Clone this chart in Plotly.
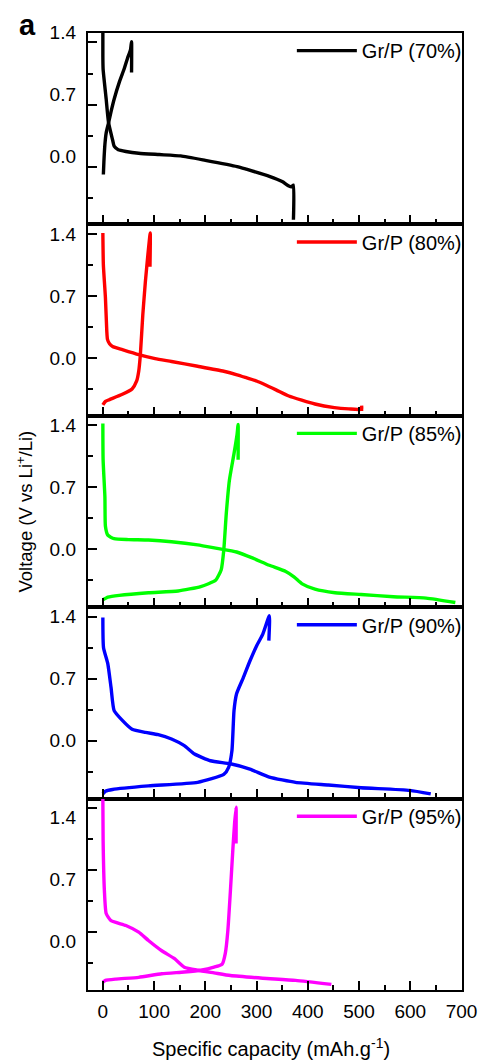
import plotly.graph_objects as go
from plotly.subplots import make_subplots

# Specific capacity (mAh/g) and voltage (V vs Li+/Li) for each Gr/P electrode
labels = ["Gr/P (70%)", "Gr/P (80%)", "Gr/P (85%)", "Gr/P (90%)", "Gr/P (95%)"]

# Gr/P (70%)
dis70_x = [0, 0, 0.5, 6.5, 11, 19, 22, 30, 45, 70, 110, 152, 200, 262, 280, 325, 350, 363, 368, 372, 372]
dis70_v = [1.51, 1.25, 1.10, 0.76, 0.50, 0.30, 0.23, 0.19, 0.17, 0.15, 0.135, 0.12, 0.07, 0.0, -0.03, -0.11, -0.17, -0.22, -0.23, -0.21, -0.60]
chg70_x = [1, 2, 4, 6.5, 11, 16, 22, 32, 41.5, 48, 54, 56, 56]
chg70_v = [-0.09, 0.05, 0.25, 0.38, 0.49, 0.62, 0.76, 0.95, 1.10, 1.22, 1.32, 1.41, 1.06]

# Gr/P (80%)
dis80_x = [0, 1, 5, 7.7, 9, 13, 19, 38, 70, 102, 134, 185, 236, 262, 281, 300, 338, 363, 414, 452, 480, 505, 505, 505]
dis80_v = [1.41, 1.05, 0.68, 0.30, 0.21, 0.16, 0.13, 0.094, 0.037, -0.008, -0.04, -0.094, -0.15, -0.19, -0.225, -0.26, -0.36, -0.43, -0.52, -0.56, -0.575, -0.58, -0.54, -0.60]
chg80_x = [0, 5, 13, 38, 57, 66, 70, 73, 78, 83, 88, 92.5, 92]
chg80_v = [-0.53, -0.49, -0.47, -0.41, -0.35, -0.26, -0.15, 0.02, 0.49, 0.86, 1.17, 1.41, 1.03]

# Gr/P (85%)
dis85_x = [0, 0.5, 4, 5, 9.6, 22, 50, 89, 134, 185, 223, 261, 293, 325, 357, 373, 389, 414, 453, 504, 567, 631, 688]
dis85_v = [1.42, 1.01, 0.59, 0.26, 0.16, 0.12, 0.11, 0.105, 0.086, 0.05, 0.01, -0.03, -0.10, -0.18, -0.25, -0.31, -0.39, -0.45, -0.49, -0.51, -0.535, -0.55, -0.60]
chg85_x = [0, 10, 32, 89, 147, 191, 220, 231, 236, 241, 247, 256, 262, 264, 264]
chg85_v = [-0.57, -0.54, -0.52, -0.49, -0.47, -0.42, -0.35, -0.23, -0.01, 0.41, 0.78, 1.08, 1.30, 1.41, 1.01]

# Gr/P (90%)
dis90_x = [0, 1.3, 9.6, 16, 22, 38, 57, 83, 108, 134, 159, 179, 210, 249, 287, 325, 376, 440, 504, 599, 640]
dis90_v = [1.39, 1.05, 0.87, 0.60, 0.34, 0.23, 0.13, 0.094, 0.068, 0.019, -0.056, -0.15, -0.226, -0.26, -0.32, -0.41, -0.47, -0.50, -0.53, -0.56, -0.60]
chg90_x = [0, 5, 19, 89, 185, 236, 245.5, 252, 256, 261, 274, 287, 300, 312, 325, 324]
chg90_v = [-0.60, -0.57, -0.55, -0.51, -0.47, -0.38, -0.30, -0.11, 0.34, 0.53, 0.71, 0.90, 1.07, 1.20, 1.41, 1.13]

# Gr/P (95%)
dis95_x = [0, 0.5, 3, 6.5, 16, 45, 70, 89, 115, 140, 159, 185, 217, 249, 312, 376, 446]
dis95_v = [1.51, 1.04, 0.47, 0.21, 0.13, 0.075, 0.0, -0.094, -0.21, -0.30, -0.395, -0.43, -0.46, -0.49, -0.52, -0.545, -0.59]
chg95_x = [0, 5, 25.6, 70, 115, 159, 191, 217, 233, 239, 244, 249, 254, 257, 260, 260]
chg95_v = [-0.565, -0.545, -0.53, -0.51, -0.47, -0.45, -0.43, -0.395, -0.36, -0.24, 0.02, 0.47, 0.96, 1.22, 1.41, 1.0]

x_ticks = [0, 100, 200, 300, 400, 500, 600, 700]
v_ticks = [0.0, 0.7, 1.4]
v_tick_text = ["0.0", "0.7", "1.4"]

panels = [
    (dis70_x, dis70_v, chg70_x, chg70_v),
    (dis80_x, dis80_v, chg80_x, chg80_v),
    (dis85_x, dis85_v, chg85_x, chg85_v),
    (dis90_x, dis90_v, chg90_x, chg90_v),
    (dis95_x, dis95_v, chg95_x, chg95_v),
]
colors = ["#000000", "#FF0000", "#00FF00", "#0000FF", "#FF00FF"]
# vertical nudge of the voltage tick labels in each panel (px, positive = down)
label_shift = [-10, 0, 0, 0, 9]

FONT = "Liberation Sans, Arial, sans-serif"
n = len(panels)

fig = make_subplots(rows=n, cols=1, shared_xaxes=True, vertical_spacing=0)

for i, (dx, dv, cx, cv) in enumerate(panels):
    row = i + 1
    leg = "legend" if row == 1 else f"legend{row}"
    line = dict(color=colors[i], width=3.4, shape="spline", smoothing=0.5)
    fig.add_trace(go.Scatter(x=dx, y=dv, mode="lines", line=line, name=labels[i],
                             legend=leg, showlegend=True), row=row, col=1)
    fig.add_trace(go.Scatter(x=cx, y=cv, mode="lines", line=line, name=labels[i],
                             legend=leg, showlegend=False), row=row, col=1)

    fig.update_xaxes(row=row, col=1, range=[-29, 701], showgrid=False, zeroline=False,
                     showline=True, linewidth=2.4, linecolor="black", mirror=True,
                     ticks="inside", ticklen=9, tickwidth=2, tickcolor="black",
                     tickvals=x_ticks, ticklabelstandoff=3,
                     minor=dict(tickvals=[50, 150, 250, 350, 450, 550, 650], ticks="inside",
                                ticklen=5, tickwidth=2, tickcolor="black"),
                     tickfont=dict(family=FONT, size=19, color="black"))
    fig.update_yaxes(row=row, col=1, range=[-0.653, 1.507], showgrid=False, zeroline=False,
                     showline=True, linewidth=2.4, linecolor="black", mirror=True,
                     ticks="inside", ticklen=9, tickwidth=2, tickcolor="black",
                     tickvals=v_ticks, ticktext=v_tick_text, ticklabelstandoff=6,
                     ticklabelshift=label_shift[i],
                     minor=dict(tickvals=[-0.35, 0.35, 1.05], ticks="inside",
                                ticklen=5, tickwidth=2, tickcolor="black"),
                     tickfont=dict(family=FONT, size=19, color="black"))

    top = 1 - i / n
    fig.update_layout({leg: dict(x=1.013, xanchor="right", y=top + 0.002, yanchor="top",
                                 bgcolor="rgba(0,0,0,0)", borderwidth=0, itemwidth=60,
                                 font=dict(family=FONT, size=20, color="black"))})

fig.add_annotation(text="Voltage (V vs Li<sup>+</sup>/Li)", xref="paper", yref="paper",
                   x=-0.171, xanchor="center", y=0.5, yanchor="middle", textangle=-90,
                   showarrow=False, font=dict(family=FONT, size=18.5, color="black"))
fig.add_annotation(text="Specific capacity (mAh.g<sup>-1</sup>)", xref="paper", yref="paper",
                   x=0.49, xanchor="center", y=-0.06, yanchor="middle", showarrow=False,
                   font=dict(family=FONT, size=20, color="black"))
fig.add_annotation(text="<b>a</b>", xref="paper", yref="paper",
                   x=-0.162, xanchor="center", y=1.008, yanchor="middle", showarrow=False,
                   font=dict(family=FONT, size=29, color="black"))

fig.update_layout(width=489, height=1062, margin=dict(l=88, r=19, t=33, b=72),
                  paper_bgcolor="white", plot_bgcolor="white",
                  font=dict(family=FONT, size=19, color="black"))

fig.write_html("out.html")
